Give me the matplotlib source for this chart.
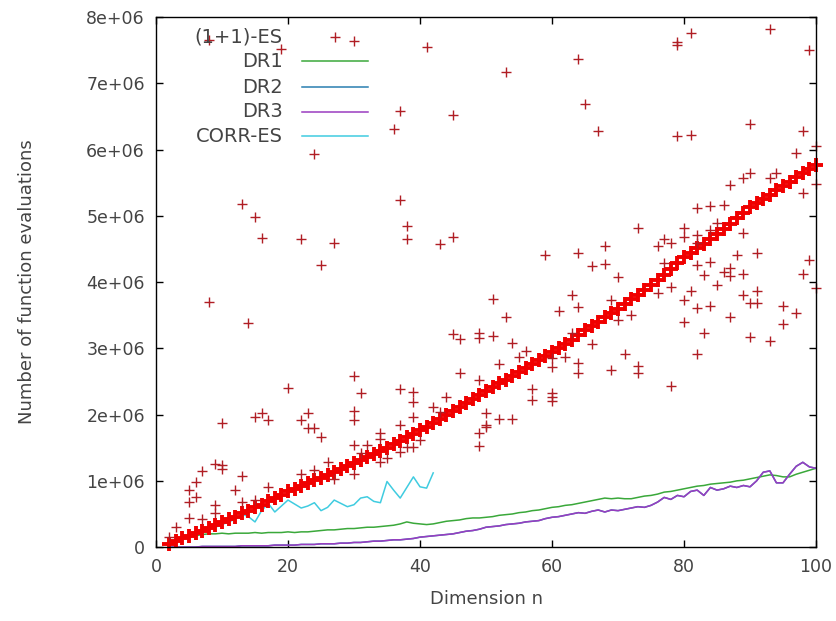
import numpy as np
import matplotlib
matplotlib.use("Agg")
import matplotlib.pyplot as plt
from matplotlib.ticker import FuncFormatter

# (1+1)-ES: the dense band of runs, one value per dimension (in 1e6 evaluations)
band_n = list(range(2, 101))
band_val = [0.05, 0.09, 0.13, 0.17, 0.21, 0.25, 0.29, 0.33, 0.38,
            0.42, 0.46, 0.51, 0.55, 0.60, 0.64, 0.69, 0.74, 0.79, 0.84,
            0.88, 0.92, 0.96, 1.01, 1.05, 1.09, 1.14, 1.18, 1.23, 1.27,
            1.31, 1.36, 1.40, 1.45, 1.50, 1.55, 1.60, 1.66, 1.71, 1.77,
            1.82, 1.88, 1.93, 1.99, 2.05, 2.11, 2.17, 2.23, 2.29, 2.35,
            2.41, 2.47, 2.52, 2.58, 2.64, 2.70, 2.76, 2.82, 2.88, 2.94,
            3.00, 3.07, 3.13, 3.20, 3.27, 3.33, 3.40, 3.47, 3.53, 3.60,
            3.67, 3.74, 3.81, 3.88, 3.95, 4.03, 4.11, 4.20, 4.29, 4.38,
            4.44, 4.51, 4.58, 4.65, 4.72, 4.80, 4.88, 4.96, 5.04, 5.13,
            5.19, 5.26, 5.32, 5.39, 5.45, 5.51, 5.58, 5.64, 5.71, 5.77]

# (1+1)-ES: scattered runs away from the band
out_n = [8, 19, 30, 37, 36, 24, 41, 53, 45, 64, 65, 67, 79, 79, 81, 93, 99,
         79, 81, 90, 98, 100, 97, 100, 98, 87, 89, 90, 93, 94, 82, 84, 86,
         85, 73, 80, 80, 77, 78, 76, 68, 84, 89, 59, 64, 66, 68, 70, 82, 82,
         82, 84, 83, 86, 87, 87, 89, 88, 91, 85, 89, 91, 90, 91, 95, 97, 95,
         99, 98, 100, 87, 84, 82, 80, 81, 80, 83, 90, 93, 82, 73, 73, 69, 71,
         78, 66, 64, 64, 60, 60, 60, 60, 57, 57, 51, 53, 51, 54, 56, 55, 52,
         61, 63, 64, 63, 62, 60, 69, 72, 70, 50, 50, 52, 54, 77, 78, 76,
         13, 15, 16, 22, 27, 25, 37, 38, 38, 43, 45, 8, 14, 45, 46, 49, 49,
         20, 30, 31, 37, 39, 39, 44, 46, 49, 10, 15, 16, 17, 22, 23, 23, 24,
         25, 7, 9, 10, 10, 6, 5, 6, 5, 5, 13, 12, 13, 9, 9, 7, 3, 2, 15, 17,
         22, 24, 30, 30, 30, 32, 34, 34, 37, 39, 40, 37, 38, 39, 34, 35, 30,
         27, 26, 49, 49, 50, 42, 43, 31]
out_val = [7.65, 7.52, 7.64, 6.58, 6.31, 5.93, 7.55, 7.17, 6.52, 7.37, 6.69,
           6.28, 7.62, 7.58, 7.76, 7.82, 7.50, 6.20, 6.22, 6.38, 6.28, 6.05,
           5.95, 5.48, 5.34, 5.46, 5.57, 5.64, 5.57, 5.65, 5.12, 5.15, 5.16,
           4.89, 4.82, 4.82, 4.68, 4.65, 4.59, 4.54, 4.54, 4.78, 4.74, 4.41,
           4.44, 4.24, 4.27, 4.08, 4.71, 4.59, 4.26, 4.30, 4.11, 4.15, 4.21,
           4.09, 4.12, 4.41, 4.44, 3.95, 3.80, 3.86, 3.68, 3.68, 3.64, 3.53,
           3.37, 4.33, 4.12, 3.91, 3.47, 3.64, 3.61, 3.73, 3.86, 3.40, 3.23,
           3.17, 3.11, 2.91, 2.73, 2.63, 2.67, 2.91, 2.43, 3.06, 2.78, 2.63,
           2.72, 2.32, 2.26, 2.20, 2.38, 2.22, 3.74, 3.47, 3.18, 3.08, 2.96,
           2.87, 2.76, 3.56, 3.80, 3.62, 3.23, 2.87, 2.85, 3.73, 3.50, 3.43,
           2.02, 1.81, 1.93, 1.93, 4.29, 3.92, 3.83,
           5.18, 4.98, 4.66, 4.65, 4.59, 4.26, 5.24, 4.85, 4.65, 4.57, 4.68,
           3.70, 3.38, 3.22, 3.14, 3.23, 3.15, 2.40, 2.58, 2.32, 2.38, 2.34,
           2.19, 2.26, 2.63, 2.52, 1.87, 1.96, 2.02, 1.92, 1.92, 2.02, 1.80,
           1.80, 1.66, 1.15, 1.25, 1.24, 1.18, 0.98, 0.86, 0.75, 0.68, 0.44,
           1.07, 0.86, 0.68, 0.63, 0.51, 0.42, 0.30, 0.15, 0.71, 0.91, 1.10,
           1.16, 2.05, 1.92, 1.54, 1.54, 1.72, 1.63, 1.84, 1.96, 1.62, 1.43,
           1.51, 1.51, 1.28, 1.34, 1.10, 1.03, 1.28, 1.72, 1.52, 1.84, 2.11,
           2.04, 1.42]

# DR1, DR2, DR3 (n = 2..100), in 1e6 evaluations
dr_n = list(range(2, 101))
dr1_val = [0.05, 0.09, 0.12, 0.15, 0.17, 0.19, 0.20, 0.20, 0.21,
           0.20, 0.21, 0.21, 0.21, 0.22, 0.21, 0.22, 0.22, 0.22, 0.23,
           0.22, 0.23, 0.23, 0.24, 0.25, 0.26, 0.26, 0.27, 0.28, 0.28,
           0.29, 0.30, 0.30, 0.31, 0.32, 0.33, 0.35, 0.38, 0.36, 0.35,
           0.34, 0.35, 0.37, 0.39, 0.40, 0.41, 0.43, 0.44, 0.44, 0.45,
           0.46, 0.48, 0.49, 0.50, 0.52, 0.53, 0.55, 0.56, 0.58, 0.60,
           0.61, 0.63, 0.64, 0.66, 0.68, 0.70, 0.72, 0.74, 0.73, 0.74,
           0.73, 0.73, 0.75, 0.77, 0.78, 0.80, 0.83, 0.84, 0.86, 0.88,
           0.90, 0.92, 0.93, 0.95, 0.96, 0.97, 0.98, 1.00, 1.01, 1.03,
           1.05, 1.07, 1.09, 1.08, 1.06, 1.06, 1.10, 1.13, 1.16, 1.19]
dr3_val = [0.00, 0.00, 0.00, 0.00, 0.00, 0.01, 0.01, 0.01, 0.01,
           0.01, 0.01, 0.02, 0.02, 0.02, 0.02, 0.02, 0.03, 0.03, 0.03,
           0.03, 0.04, 0.04, 0.04, 0.05, 0.05, 0.05, 0.06, 0.06, 0.07,
           0.07, 0.08, 0.09, 0.09, 0.10, 0.11, 0.11, 0.12, 0.13, 0.15,
           0.16, 0.17, 0.18, 0.19, 0.20, 0.22, 0.24, 0.25, 0.27, 0.30,
           0.31, 0.32, 0.34, 0.35, 0.36, 0.38, 0.39, 0.40, 0.43, 0.45,
           0.46, 0.48, 0.50, 0.52, 0.51, 0.54, 0.56, 0.53, 0.56, 0.55,
           0.57, 0.59, 0.61, 0.60, 0.63, 0.68, 0.75, 0.72, 0.78, 0.76,
           0.84, 0.86, 0.78, 0.90, 0.86, 0.88, 0.92, 0.90, 0.93, 0.91,
           1.00, 1.13, 1.15, 0.97, 0.97, 1.10, 1.22, 1.28, 1.21, 1.19]
dr2_val = dr3_val  # DR2 lies underneath DR3 in the picture

# CORR-ES (n = 2..42)
corr_n = list(range(2, 43))
corr_val = [0.04, 0.08, 0.11, 0.15, 0.18, 0.22, 0.26, 0.30, 0.34, 0.38,
            0.42, 0.50, 0.46, 0.38, 0.55, 0.66, 0.53, 0.62, 0.71, 0.65,
            0.59, 0.62, 0.67, 0.55, 0.60, 0.71, 0.66, 0.61, 0.64, 0.74,
            0.76, 0.69, 0.67, 0.99, 0.86, 0.74, 0.90, 1.06, 0.91, 0.89,
            1.12]

labels = ["(1+1)-ES", "DR1", "DR2", "DR3", "CORR-ES"]
colors = ["#b01e24", "#3aa83a", "#2a7fb0", "#9a3cc0", "#40cce0"]
text_col = "#444444"

fig = plt.figure(figsize=(8.36, 6.21), dpi=100)
ax = fig.add_axes([0.1866, 0.119, 0.7895, 0.8535])

M = 1e6
ax.plot(dr_n, np.array(dr1_val) * M, color=colors[1], lw=1.1)
ax.plot(dr_n, np.array(dr2_val) * M, color=colors[2], lw=1.1)
ax.plot(dr_n, np.array(dr3_val) * M, color=colors[3], lw=1.1)
ax.plot(corr_n, np.array(corr_val) * M, color=colors[4], lw=1.1)

ax.plot(band_n, np.array(band_val) * M, ls="none", marker="+", ms=10,
        mew=2.8, color="#f00000", clip_on=False)
ax.plot(out_n, np.array(out_val) * M, ls="none", marker="+", ms=7,
        mew=1.0, color=colors[0], clip_on=False)

ax.set_xlim(0, 100)
ax.set_ylim(0, 8e6)
ax.set_xticks(range(0, 101, 20))
ax.set_yticks(np.arange(0, 8.01e6, 1e6))
ax.yaxis.set_major_formatter(FuncFormatter(
    lambda v, p: "0" if v == 0 else "%de+06" % round(v / 1e6)))
ax.tick_params(direction="in", length=5, width=1, top=True, right=True,
               labelsize=12.5, colors="black", labelcolor=text_col, pad=8)
for s in ax.spines.values():
    s.set_linewidth(1.0)

ax.set_xlabel("Dimension n", fontsize=13, color=text_col, labelpad=10)
ax.set_ylabel("Number of function evaluations", fontsize=13,
              color=text_col, labelpad=36)

# gnuplot style key: right aligned text, sample on its right
key_y = [0.962, 0.917, 0.868, 0.821, 0.775]
for i, lab in enumerate(labels):
    ax.text(0.192, key_y[i], lab, transform=ax.transAxes, ha="right",
            va="center", fontsize=14, color=text_col)
    if i == 0:
        ax.plot([0.271], [key_y[i]], transform=ax.transAxes, marker="+",
                ms=7, mew=1.0, color=colors[0], clip_on=False)
    else:
        ax.plot([0.221, 0.321], [key_y[i], key_y[i]], transform=ax.transAxes,
                color=colors[i], lw=1.1)

fig.savefig("out.png", dpi=100)
